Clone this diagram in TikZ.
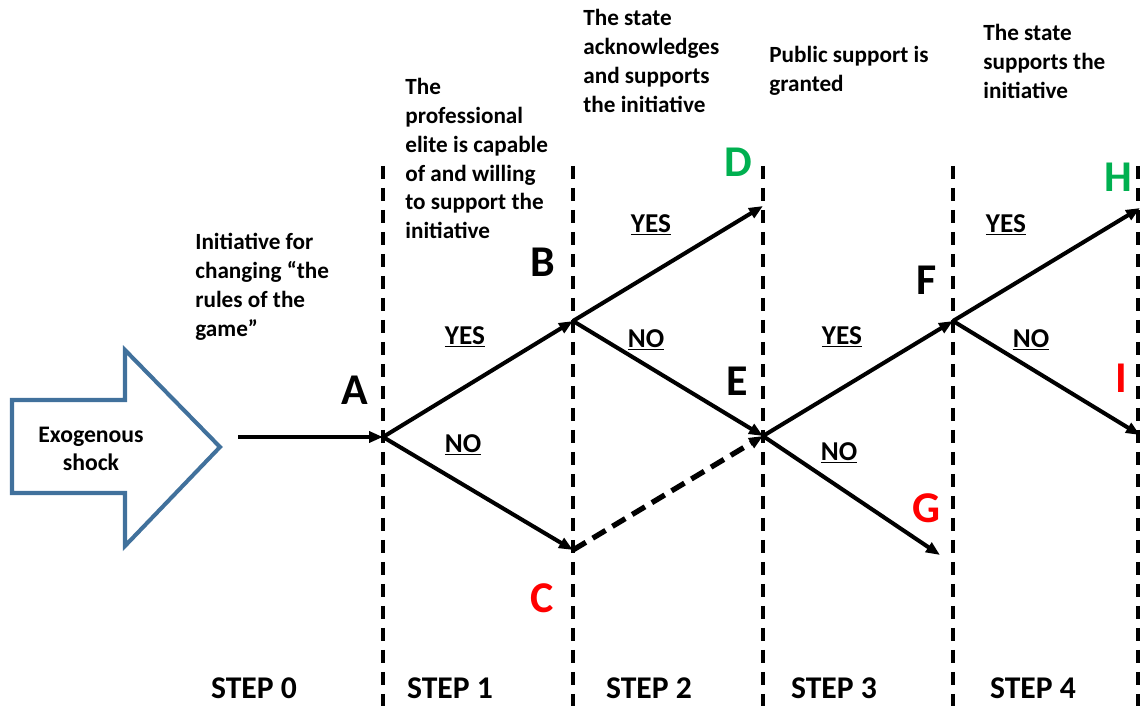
\documentclass[tikz,border=0pt]{standalone}
\usepackage{fontspec}
\setmainfont{Carlito}
\usetikzlibrary{arrows.meta}
\definecolor{okgreen}{HTML}{00B050}
\definecolor{nored}{HTML}{FF0000}
\definecolor{shockblue}{HTML}{41719C}
\begin{document}
\begin{tikzpicture}[x=0.02cm, y=-0.02cm,
  every node/.style={font=\bfseries},
  branch/.style={line width=2.3pt, -{Triangle[length=0.28cm, width=0.22cm]}},
  stepline/.style={line width=2pt, dash pattern=on 0.27cm off 0.17cm},
  letter/.style={font=\bfseries\fontsize{25}{30}\selectfont},
  answer/.style={font=\bfseries\fontsize{15.5}{18}\selectfont},
  question/.style={anchor=north west, align=left, inner sep=0pt, font=\bfseries\fontsize{13.2}{16.4}\selectfont},
  steplabel/.style={font=\bfseries\fontsize{18}{20}\selectfont}]
\useasboundingbox (0,0) rectangle (1140,706);
% step separators
\foreach \x in {383,573,763,953,1138}
  \draw[stepline] (\x,166) -- (\x,706);
% exogenous shock arrow
\draw[shockblue, line width=2.3pt, line join=miter]
  (12,400) -- (125,400) -- (125,350) -- (220,447) -- (125,546) -- (125,493) -- (12,493) -- cycle;
\node[align=center, font=\bfseries\fontsize{13.5}{16}\selectfont] (shock) at (91,449) {Exogenous\\shock};
% decision points
\coordinate (start) at (238,437);
\coordinate (A) at (383,437);
\coordinate (B) at (573,321);
\coordinate (C) at (573,550);
\coordinate (D) at (763,206);
\coordinate (E) at (763,436);
\coordinate (F) at (953,321);
\coordinate (G) at (940,555);
\coordinate (H) at (1140,208);
\coordinate (I) at (1140,435);
% branches
\draw[branch] (start) -- (A);
\draw[branch] (A) -- (B);
\draw[branch] (A) -- (C);
\draw[branch] (B) -- (D);
\draw[branch] (B) -- (E);
\draw[branch, line width=3pt, dash pattern=on 0.3cm off 0.16cm] (C) -- (E);
\draw[branch] (E) -- (F);
\draw[branch] (E) -- (G);
\draw[branch] (F) -- (H);
\draw[branch] (F) -- (I);
% letters
\node[letter] (lA) at (355,390) {A};
\node[letter] (lB) at (543,262) {B};
\node[letter, nored] (lC) at (542,598) {C};
\node[letter, okgreen] (lD) at (738,162) {D};
\node[letter] (lE) at (737,381) {E};
\node[letter] (lF) at (927,280) {F};
\node[letter, nored] (lG) at (926,508) {G};
\node[letter, okgreen] (lH) at (1118,177) {H};
\node[letter, nored] (lI) at (1121,378) {I};
% answers
\node[answer] (yes1) at (465,337) {\underline{YES}};
\node[answer] (no1) at (463,445) {\underline{NO}};
\node[answer] (yes2) at (651,225) {\underline{YES}};
\node[answer] (no2) at (646,340) {\underline{NO}};
\node[answer] (yes3) at (842,337) {\underline{YES}};
\node[answer] (no3) at (839,453) {\underline{NO}};
\node[answer] (yes4) at (1006,225) {\underline{YES}};
\node[answer] (no4) at (1031,340) {\underline{NO}};
% questions
\node[question] (q0) at (195,233) {Initiative for\\changing “the\\rules of the\\game”};
\node[question] (q1) at (405,78) {The\\professional\\elite is capable\\of and willing\\to support the\\initiative};
\node[question] (q2) at (583,9) {The state\\acknowledges\\and supports\\the initiative};
\node[question] (q3) at (769,46) {Public support is\\granted};
\node[question] (q4) at (983,24) {The state\\supports the\\initiative};
% steps
\node[steplabel] (s0) at (254,688) {STEP 0};
\node[steplabel] (s1) at (450,688) {STEP 1};
\node[steplabel] (s2) at (649,688) {STEP 2};
\node[steplabel] (s3) at (834,688) {STEP 3};
\node[steplabel] (s4) at (1033,688) {STEP 4};
\end{tikzpicture}
\end{document}
